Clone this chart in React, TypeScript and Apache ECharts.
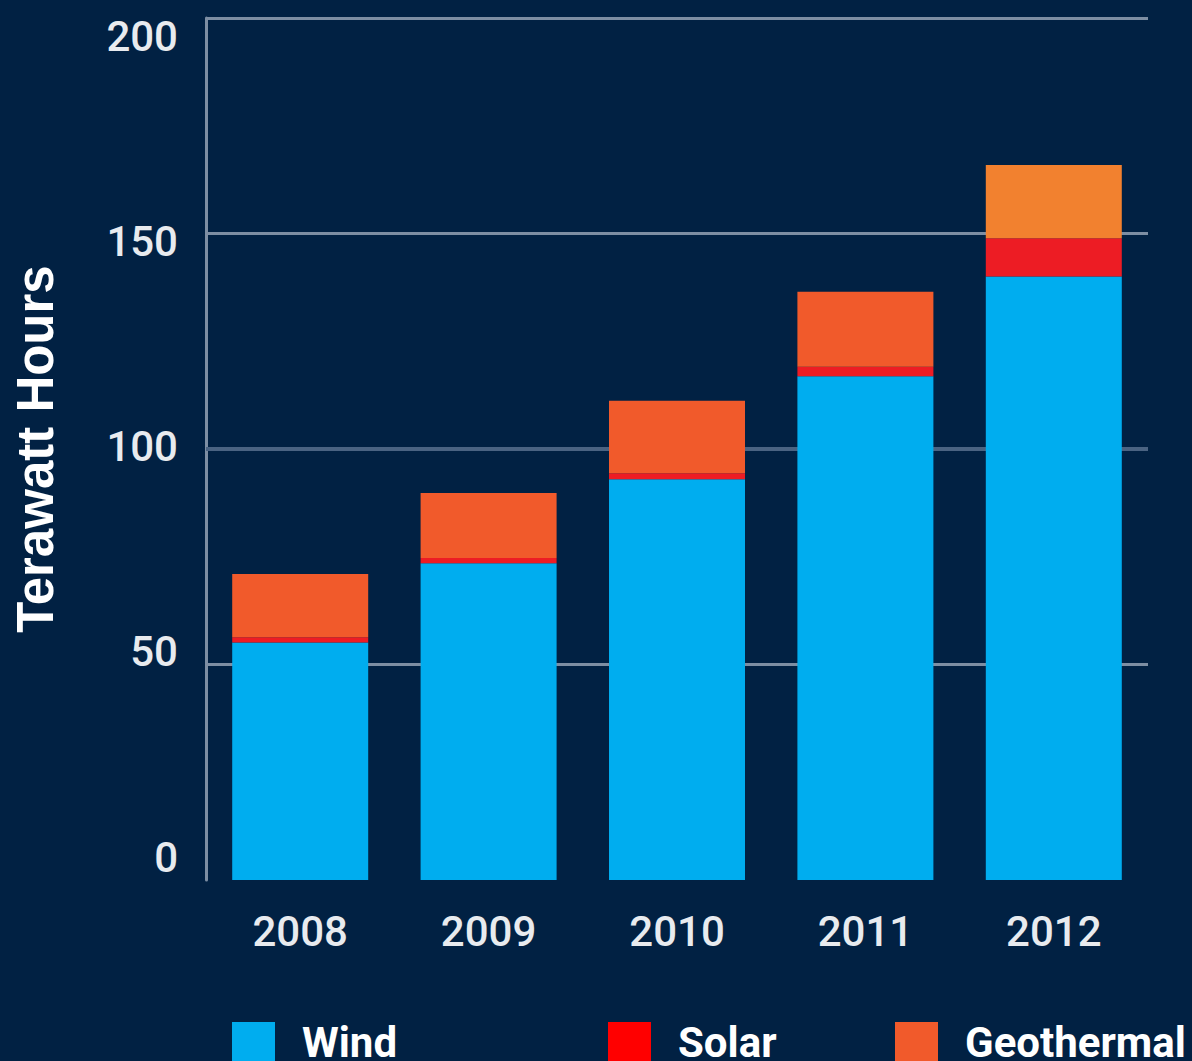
import React, { useEffect, useRef } from "react";
import * as echarts from "echarts";

const years = ["2008", "2009", "2010", "2011", "2012"];
const wind = [55.1, 73.5, 93.0, 116.9, 140.0];
const solar = [1.2, 1.2, 1.4, 2.2, 8.9];
const geothermal = [14.7, 15.1, 16.8, 17.4, 17.0];
const yTicks = [0, 50, 100, 150, 200];

const BG = "#012143";
const GRID = "#7d8ea3";
const WIND = "#00adef";
const SOLAR = "#ed1c24";
const GEO = "#f15a2b";
const GEO_2012 = "#f2812f";
const TEXT = "#e8ebef";

export default function App() {
  const ref = useRef<HTMLDivElement>(null);
  useEffect(() => {
    const chart = echarts.init(ref.current!, null, { renderer: "svg" });
    const legendText = {
      color: "#ffffff",
      fontSize: 42,
      lineHeight: 32,
      fontWeight: "bold",
      fontFamily: "Roboto, sans-serif",
      padding: [0, 0, 8, 22],
    };
    const mkLegend = (name: string, left: number, color: string) => ({
      data: [{ name, itemStyle: { color } }],
      left,
      top: 1021,
      padding: 0,
      icon: "rect",
      itemWidth: 43,
      itemHeight: 40,
      textStyle: legendText,
      selectedMode: false,
    });
    chart.setOption({
      animation: false,
      backgroundColor: BG,
      grid: { left: 206, top: 18, width: 942, height: 862 },
      legend: [
        mkLegend("Wind", 232, WIND),
        mkLegend("Solar", 608, "#ff0000"),
        mkLegend("Geothermal", 895, GEO),
      ],
      xAxis: {
        type: "category",
        data: years,
        axisLine: { show: false },
        axisTick: { show: false },
        axisLabel: {
          color: TEXT,
          fontSize: 42,
          fontWeight: 500,
          fontFamily: "Roboto, sans-serif",
          margin: 30,
        },
      },
      yAxis: [
        {
          type: "value",
          min: 0,
          max: 200,
          interval: 50,
          axisLine: { show: true, lineStyle: { color: GRID, width: 3 } },
          axisTick: { show: false },
          axisLabel: { show: false },
          splitLine: {
            show: true,
            lineStyle: { color: ["rgba(0,0,0,0)", GRID, GRID, GRID, GRID], width: 3 },
          },
          name: "Terawatt Hours",
          nameLocation: "middle",
          nameGap: 145,
          nameRotate: 90,
          nameTextStyle: {
            color: "#ffffff",
            fontSize: 51,
            fontWeight: "bold",
            fontFamily: "'Liberation Sans', sans-serif",
          },
        },
        {
          type: "value",
          position: "left",
          min: -5.6,
          max: 204.4,
          axisLine: { show: false },
          axisTick: { show: false },
          splitLine: { show: false },
          axisLabel: {
            customValues: yTicks,
            color: TEXT,
            fontSize: 42,
            fontWeight: 500,
            fontFamily: "Roboto, sans-serif",
            margin: 28,
          },
        },
      ],
      series: [
        {
          name: "Wind",
          type: "bar",
          stack: "total",
          barWidth: 136,
          data: wind,
          itemStyle: { color: WIND },
        },
        {
          name: "Solar",
          type: "bar",
          stack: "total",
          barWidth: 136,
          data: solar,
          itemStyle: { color: SOLAR },
        },
        {
          name: "Geothermal",
          type: "bar",
          stack: "total",
          barWidth: 136,
          data: geothermal.map((v, i) =>
            years[i] === "2012" ? { value: v, itemStyle: { color: GEO_2012 } } : v
          ),
          itemStyle: { color: GEO },
        },
        {
          name: "ref100",
          type: "line",
          data: [],
          z: 1,
          markLine: {
            z: 1,
            silent: true,
            symbol: ["none", "none"],
            label: { show: false },
            lineStyle: { color: "#4a6382", width: 4, type: "solid" },
            data: [{ yAxis: 100 }],
          },
        },
      ],
    });
    return () => chart.dispose();
  }, []);
  return (
    <div
      ref={ref}
      style={{ position: "fixed", left: 0, top: 0, width: 1192, height: 1061 }}
    />
  );
}
